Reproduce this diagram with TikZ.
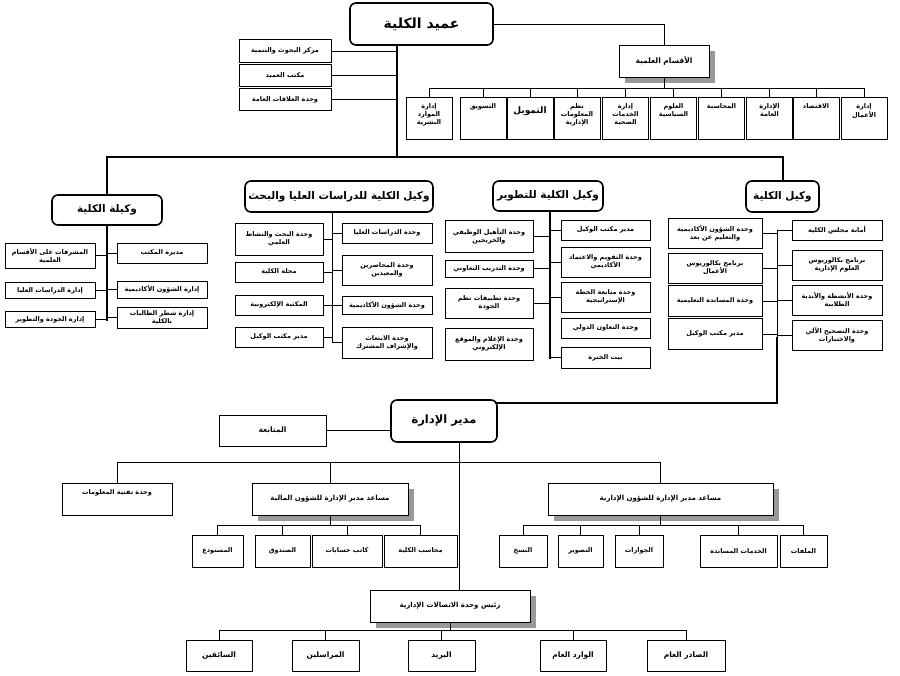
\documentclass[tikz,border=0pt]{standalone}
\usepackage{fontspec}
\newfontfamily\arabicfont[Script=Arabic]{DejaVu Sans}
\TeXXeTstate=1
\usepackage{tikz}
\usetikzlibrary{
  chains,
  scopes,
  shadows
}
\newcommand{\artxt}[1]{\beginR #1\endR}
\newcommand{\topstack}[1]{\begin{tabular}[t]{@{}c@{}}#1\end{tabular}}

\begin{document}
\begin{tikzpicture}[x=1pt,y=-1pt,
      leader/.style={
         rectangle,
         rounded corners=6pt,
         line width=1.6pt,
         draw=black,
         fill=white,
         font=\arabicfont\bfseries\fontsize{10.5}{12}\selectfont
      },
      plain box/.style={
         rectangle,
         line width=0.7pt,
         draw=black,
         fill=white,
         inner sep=1pt,
         font=\arabicfont\bfseries\fontsize{6.5}{8}\selectfont
      },
      unit/.style={
         plain box,
         align=center
      },
      dept/.style={
         plain box,
         minimum width=46,
         minimum height=42,
         text height=9pt,
         text depth=27pt
      },
      shaded/.style={
         drop shadow={shadow xshift=6pt,shadow yshift=-6pt,fill=black!40,opacity=1}
      },
      point/.style={coordinate},
      every join/.style={line width=0.7pt},
      bus/.style={line width=2pt,line cap=rect},
      hv path/.style={to path={-| (\tikztotarget)}},
      vh path/.style={to path={|- (\tikztotarget)}},
    ]
    \useasboundingbox (0,0) rectangle (900,676);

    % dean and scientific departments
    \node (dean) [leader, minimum width=143, minimum height=42, font=\arabicfont\bfseries\fontsize{14}{16}\selectfont] at (421.5,24) {\artxt{عميد الكلية}};
    \node (bh)   [unit, minimum width=92, minimum height=23] at (285,51) {\artxt{مركز البحوث والتنمية}};
    \node (mk)   [unit, minimum width=92, minimum height=22] at (285,75.5) {\artxt{مكتب العميد}};
    \node (ala)  [unit, minimum width=92, minimum height=22] at (285,99.5) {\artxt{وحدة العلاقات العامة}};
    \node (aq)   [unit, shaded, minimum width=90, minimum height=32, font=\arabicfont\bfseries\fontsize{7.5}{9}\selectfont] at (664,61) {\artxt{الأقسام العلمية}};
    \node (hr)   [dept] at (429,118)   {\topstack{\artxt{إدارة}\\\artxt{الموارد}\\\artxt{البشرية}}};
    \node (mkt)  [dept] at (483,118)   {\artxt{التسويق}};
    \node (fin)  [dept, text height=13pt, text depth=21pt, font=\arabicfont\bfseries\fontsize{9}{10}\selectfont] at (530,118) {\artxt{التمويل}};
    \node (mis)  [dept] at (577,118)   {\topstack{\artxt{نظم}\\\artxt{المعلومات}\\\artxt{الإدارية}}};
    \node (hs)   [dept] at (625.5,118) {\topstack{\artxt{إدارة}\\\artxt{الخدمات}\\\artxt{الصحية}}};
    \node (pol)  [dept] at (673.5,118) {\topstack{\artxt{العلوم}\\\artxt{السياسية}}};
    \node (acc)  [dept] at (721.5,118) {\artxt{المحاسبة}};
    \node (pa)   [dept] at (769.5,118) {\topstack{\artxt{الإدارة}\\\artxt{العامة}}};
    \node (eco)  [dept] at (816,118)   {\artxt{الاقتصاد}};
    \node (ba)   [dept] at (864,118)   {\topstack{\artxt{إدارة}\\\artxt{الأعمال}}};

    % vice deans
    \node (vf) [leader, minimum width=110, minimum height=30] at (107,210) {\artxt{وكيلة الكلية}};
    \node (vg) [leader, minimum width=172, minimum height=31] at (339,196.5) {\artxt{وكيل الكلية للدراسات العليا والبحث}};
    \node (vd) [leader, minimum width=110, minimum height=30] at (548,196) {\artxt{وكيل الكلية للتطوير}};
    \node (vk) [leader, minimum width=73, minimum height=31] at (782.5,196.5) {\artxt{وكيل الكلية}};

    \node (vf1) [unit, minimum width=90, minimum height=20] at (162,253)   {\artxt{مديرة المكتب}};
    \node (vf2) [unit, minimum width=90, minimum height=17] at (162,289.5) {\artxt{إدارة الشؤون الأكاديمية}};
    \node (vf3) [unit, minimum width=90, minimum height=21] at (162,317.5) {\artxt{إدارة شطر الطالبات}\\\artxt{بالكلية}};
    \node (vf4) [unit, minimum width=90, minimum height=25] at (50,255.5)  {\artxt{المشرفات على الأقسام}\\\artxt{العلمية}};
    \node (vf5) [unit, minimum width=90, minimum height=16] at (50,290.5)  {\artxt{إدارة الدراسات العليا}};
    \node (vf6) [unit, minimum width=90, minimum height=16] at (50,319.5)  {\artxt{إدارة الجودة والتطوير}};

    \node (vg1) [unit, minimum width=90, minimum height=20] at (387,233)   {\artxt{وحدة الدراسات العليا}};
    \node (vg2) [unit, minimum width=90, minimum height=30] at (387,270)   {\artxt{وحدة المحاضرين}\\\artxt{والمعيدين}};
    \node (vg3) [unit, minimum width=90, minimum height=18] at (387,305)   {\artxt{وحدة الشؤون الأكاديمية}};
    \node (vg4) [unit, minimum width=90, minimum height=31] at (387,342.5) {\artxt{وحدة الابتعاث}\\\artxt{والإشراف المشترك}};
    \node (vg5) [unit, minimum width=88, minimum height=32] at (279,239)   {\artxt{وحدة البحث والنشاط}\\\artxt{العلمي}};
    \node (vg6) [unit, minimum width=88, minimum height=20] at (279,272)   {\artxt{مجلة الكلية}};
    \node (vg7) [unit, minimum width=88, minimum height=20] at (279,305)   {\artxt{المكتبة الإلكترونية}};
    \node (vg8) [unit, minimum width=88, minimum height=20] at (279,337)   {\artxt{مدير مكتب الوكيل}};

    \node (vd1) [unit, minimum width=89, minimum height=20] at (605.5,230)   {\artxt{مدير مكتب الوكيل}};
    \node (vd2) [unit, minimum width=89, minimum height=30] at (605.5,262)   {\artxt{وحدة التقويم والاعتماد}\\\artxt{الأكاديمي}};
    \node (vd3) [unit, minimum width=89, minimum height=30] at (605.5,297)   {\artxt{وحدة متابعة الخطة}\\\artxt{الإستراتيجية}};
    \node (vd4) [unit, minimum width=89, minimum height=20] at (605.5,328)   {\artxt{وحدة التعاون الدولي}};
    \node (vd5) [unit, minimum width=89, minimum height=21] at (605.5,357.5) {\artxt{بيت الخبرة}};
    \node (vd6) [unit, minimum width=88, minimum height=32] at (489,236)     {\artxt{وحدة التأهيل الوظيفي}\\\artxt{والخريجين}};
    \node (vd7) [unit, minimum width=88, minimum height=17] at (489,268.5)   {\artxt{وحدة التدريب التعاوني}};
    \node (vd8) [unit, minimum width=88, minimum height=30] at (489,303)     {\artxt{وحدة تطبيقات نظم}\\\artxt{الجودة}};
    \node (vd9) [unit, minimum width=88, minimum height=32] at (489,344)     {\artxt{وحدة الإعلام والموقع}\\\artxt{الإلكتروني}};

    \node (vk1) [unit, minimum width=90, minimum height=20] at (837,230) {\artxt{أمانة مجلس الكلية}};
    \node (vk2) [unit, minimum width=90, minimum height=30] at (837,265) {\artxt{برنامج بكالوريوس}\\\artxt{العلوم الإدارية}};
    \node (vk3) [unit, minimum width=90, minimum height=30] at (837,300) {\artxt{وحدة الأنشطة والأندية}\\\artxt{الطلابية}};
    \node (vk4) [unit, minimum width=90, minimum height=30] at (837,335) {\artxt{وحدة التصحيح الآلي}\\\artxt{والاختبارات}};
    \node (vk5) [unit, minimum width=94, minimum height=30] at (715,233) {\artxt{وحدة الشؤون الأكاديمية}\\\artxt{والتعليم عن بعد}};
    \node (vk6) [unit, minimum width=94, minimum height=30] at (715,268) {\artxt{برنامج بكالوريوس}\\\artxt{الأعمال}};
    \node (vk7) [unit, minimum width=94, minimum height=31] at (715,301) {\artxt{وحدة المساندة التعليمية}};
    \node (vk8) [unit, minimum width=94, minimum height=31] at (715,334) {\artxt{مدير مكتب الوكيل}};

    % administration
    \node (dir)   [leader, minimum width=106, minimum height=42, font=\arabicfont\bfseries\fontsize{11.5}{14}\selectfont] at (444,421) {\artxt{مدير الإدارة}};
    \node (mt)    [unit, minimum width=107, minimum height=31, font=\arabicfont\bfseries\fontsize{7.5}{9}\selectfont] at (272.5,430.5) {\artxt{المتابعة}};
    \node (tq)    [unit, minimum width=110, minimum height=32, text height=6pt, text depth=16pt] at (117,499) {\artxt{وحدة تقنية المعلومات}};
    \node (mali)  [unit, shaded, minimum width=156, minimum height=32, font=\arabicfont\bfseries\fontsize{7}{9}\selectfont] at (330,499) {\artxt{مساعد مدير الإدارة للشؤون المالية}};
    \node (idari) [unit, shaded, minimum width=225, minimum height=32, font=\arabicfont\bfseries\fontsize{7}{9}\selectfont] at (660.5,499) {\artxt{مساعد مدير الإدارة للشؤون الإدارية}};
    \node (ms1) [unit, minimum width=73, minimum height=32] at (420.5,551) {\artxt{محاسب الكلية}};
    \node (ms2) [unit, minimum width=70, minimum height=32] at (347,551)   {\artxt{كاتب حسابات}};
    \node (ms3) [unit, minimum width=55, minimum height=32] at (282.5,551) {\artxt{الصندوق}};
    \node (ms4) [unit, minimum width=51, minimum height=32] at (217.5,551) {\artxt{المستودع}};
    \node (is1) [unit, minimum width=48, minimum height=32] at (523,551)   {\artxt{النسخ}};
    \node (is2) [unit, minimum width=45, minimum height=32] at (580.5,551) {\artxt{التصوير}};
    \node (is3) [unit, minimum width=48, minimum height=32] at (639,551)   {\artxt{الجوازات}};
    \node (is4) [unit, minimum width=77, minimum height=32] at (738.5,551) {\artxt{الخدمات المساندة}};
    \node (is5) [unit, minimum width=47, minimum height=32] at (803.5,551) {\artxt{الملفات}};
    \node (rs)  [unit, shaded, minimum width=160, minimum height=32, font=\arabicfont\bfseries\fontsize{7}{9}\selectfont] at (450,606) {\artxt{رئيس وحدة الاتصالات الإدارية}};
    \node (rb1) [unit, minimum width=66, minimum height=31, font=\arabicfont\bfseries\fontsize{7.5}{9}\selectfont] at (219,655.5)   {\artxt{السائقين}};
    \node (rb2) [unit, minimum width=67, minimum height=31, font=\arabicfont\bfseries\fontsize{7.5}{9}\selectfont] at (325.5,655.5) {\artxt{المراسلين}};
    \node (rb3) [unit, minimum width=67, minimum height=31, font=\arabicfont\bfseries\fontsize{7.5}{9}\selectfont] at (441.5,655.5) {\artxt{البريد}};
    \node (rb4) [unit, minimum width=66, minimum height=31, font=\arabicfont\bfseries\fontsize{7.5}{9}\selectfont] at (573,655.5)   {\artxt{الوارد العام}};
    \node (rb5) [unit, minimum width=78, minimum height=31, font=\arabicfont\bfseries\fontsize{7.5}{9}\selectfont] at (686,655.5)   {\artxt{الصادر العام}};

    % junction points
    \node (d0)  [point] at (397,45) {};
    \node (d1)  [point] at (397,157) {};
    \node (a0)  [point] at (664,88) {};
    \node (f0)  [point] at (107,225) {};
    \node (f1)  [point] at (107,320) {};
    \node (g0)  [point] at (332,212) {};
    \node (e0)  [point] at (550,211) {};
    \node (e1)  [point] at (550,358) {};
    \node (k0)  [point] at (777,230) {};
    \node (k1)  [point] at (777,338) {};
    \node (k2)  [point] at (777,403) {};
    \node (dE)  [point] at (496,403) {};
    \node (dW)  [point] at (391,430.5) {};
    \node (d2)  [point] at (459,442) {};
    \node (d3)  [point] at (459,462) {};
    \node (rsT) [point] at (459,590) {};
    \node (m0)  [point] at (330,525) {};
    \node (i0)  [point] at (660.5,525) {};
    \node (r0)  [point] at (450,630) {};

  { [start chain]
       \chainin (d0);
       \chainin (d1)    [join=by bus];
       \chainin (vf)    [join=by {hv path,bus}];
       \chainin (d1);
       \chainin (vk)    [join=by {hv path,bus}];
  }
  { [start chain]
       \chainin (d0);
       \chainin (bh)    [join=by vh path];
       \chainin (d0);
       \chainin (mk)    [join=by vh path];
       \chainin (d0);
       \chainin (ala)   [join=by vh path];
  }
  { [start chain]
       \chainin (dean);
       \chainin (aq)    [join=by hv path];
       \chainin (a0)    [join];
       \chainin (hr)    [join=by hv path];
       \chainin (a0);
       \chainin (mkt)   [join=by hv path];
       \chainin (a0);
       \chainin (fin)   [join=by hv path];
       \chainin (a0);
       \chainin (mis)   [join=by hv path];
       \chainin (a0);
       \chainin (hs)    [join=by hv path];
       \chainin (a0);
       \chainin (pol)   [join=by hv path];
       \chainin (a0);
       \chainin (acc)   [join=by hv path];
       \chainin (a0);
       \chainin (pa)    [join=by hv path];
       \chainin (a0);
       \chainin (eco)   [join=by hv path];
       \chainin (a0);
       \chainin (ba)    [join=by hv path];
  }
  { [start chain]
       \chainin (f0);
       \chainin (f1)    [join=by bus];
       \chainin (f0);
       \chainin (vf1)   [join=by vh path];
       \chainin (f0);
       \chainin (vf2)   [join=by vh path];
       \chainin (f0);
       \chainin (vf3)   [join=by vh path];
       \chainin (f0);
       \chainin (vf4)   [join=by vh path];
       \chainin (f0);
       \chainin (vf5)   [join=by vh path];
       \chainin (f0);
       \chainin (vf6)   [join=by vh path];
  }
  { [start chain]
       \chainin (g0);
       \chainin (vg1)   [join=by vh path];
       \chainin (g0);
       \chainin (vg2)   [join=by vh path];
       \chainin (g0);
       \chainin (vg3)   [join=by vh path];
       \chainin (g0);
       \chainin (vg4)   [join=by vh path];
       \chainin (g0);
       \chainin (vg5)   [join=by vh path];
       \chainin (g0);
       \chainin (vg6)   [join=by vh path];
       \chainin (g0);
       \chainin (vg7)   [join=by vh path];
       \chainin (g0);
       \chainin (vg8)   [join=by vh path];
  }
  { [start chain]
       \chainin (e0);
       \chainin (e1)    [join=by bus];
       \chainin (e0);
       \chainin (vd1)   [join=by vh path];
       \chainin (e0);
       \chainin (vd2)   [join=by vh path];
       \chainin (e0);
       \chainin (vd3)   [join=by vh path];
       \chainin (e0);
       \chainin (vd5)   [join=by vh path];
       \chainin (e0);
       \chainin (vd6)   [join=by vh path];
       \chainin (e0);
       \chainin (vd7)   [join=by vh path];
       \chainin (e0);
       \chainin (vd8)   [join=by vh path];
  }
  { [start chain]
       \chainin (k0);
       \chainin (k1)    [join];
       \chainin (k2)    [join=by bus];
       \chainin (dE)    [join=by bus];
       \chainin (k0);
       \chainin (vk1)   [join=by vh path];
       \chainin (k0);
       \chainin (vk2)   [join=by vh path];
       \chainin (k0);
       \chainin (vk3)   [join=by vh path];
       \chainin (k0);
       \chainin (vk4)   [join=by vh path];
       \chainin (k0);
       \chainin (vk5)   [join=by vh path];
       \chainin (k0);
       \chainin (vk6)   [join=by vh path];
       \chainin (k0);
       \chainin (vk7)   [join=by vh path];
       \chainin (k0);
       \chainin (vk8)   [join=by vh path];
  }
  { [start chain]
       \chainin (dW);
       \chainin (mt)    [join];
       \chainin (d2);
       \chainin (d3)    [join];
       \chainin (rsT)   [join];
       \chainin (d3);
       \chainin (tq)    [join=by hv path];
       \chainin (d3);
       \chainin (mali)  [join=by hv path];
       \chainin (d3);
       \chainin (idari) [join=by hv path];
  }
  { [start chain]
       \chainin (mali);
       \chainin (m0)    [join];
       \chainin (ms1)   [join=by hv path];
       \chainin (m0);
       \chainin (ms2)   [join=by hv path];
       \chainin (m0);
       \chainin (ms3)   [join=by hv path];
       \chainin (m0);
       \chainin (ms4)   [join=by hv path];
  }
  { [start chain]
       \chainin (idari);
       \chainin (i0)    [join];
       \chainin (is1)   [join=by hv path];
       \chainin (i0);
       \chainin (is2)   [join=by hv path];
       \chainin (i0);
       \chainin (is3)   [join=by hv path];
       \chainin (i0);
       \chainin (is4)   [join=by hv path];
       \chainin (i0);
       \chainin (is5)   [join=by hv path];
  }
  { [start chain]
       \chainin (rs);
       \chainin (r0)    [join];
       \chainin (rb1)   [join=by hv path];
       \chainin (r0);
       \chainin (rb2)   [join=by hv path];
       \chainin (r0);
       \chainin (rb3)   [join=by hv path];
       \chainin (r0);
       \chainin (rb4)   [join=by hv path];
       \chainin (r0);
       \chainin (rb5)   [join=by hv path];
  }
\end{tikzpicture}
\end{document}
